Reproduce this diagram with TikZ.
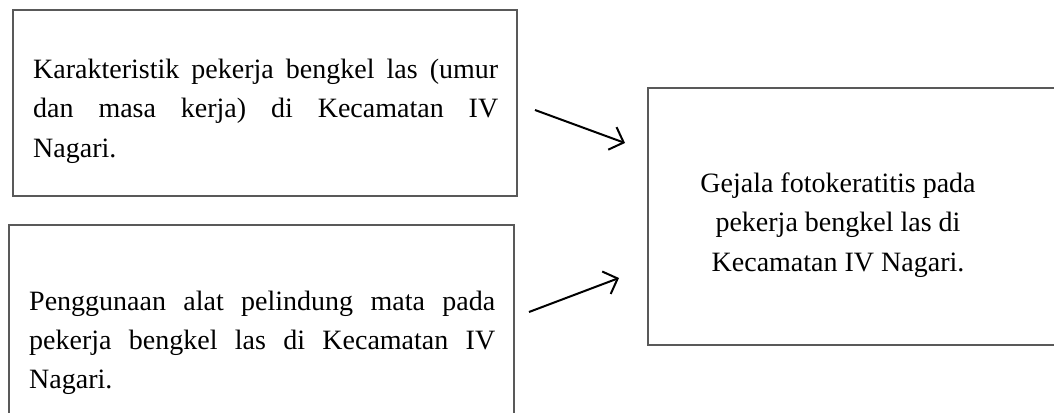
\documentclass[tikz,border=0pt]{standalone}
\usepackage{fontspec}
\setmainfont{Liberation Serif}
\usetikzlibrary{arrows.meta}
\begin{document}
\begin{tikzpicture}[x=1pt,y=-1pt,
  box/.style={draw=black!65,line width=1.4pt,fill=none},
  ln/.style={font=\fontsize{28}{40}\selectfont,inner sep=0pt,anchor=base west},
  cl/.style={font=\fontsize{28}{40}\selectfont,inner sep=0pt,anchor=base},
  arr/.style={line width=2pt,-{Straight Barb[length=12pt,width=24pt]}}]
\path[use as bounding box] (0,0) rectangle (1054,412);
\clip (0,0) rectangle (1054,412);
% boxes
\draw[box] (13,10) rectangle (517,196);
\draw[box] (9,225) rectangle (514,430);
\draw[box] (648,88) rectangle (1070,345);
% box 1 text
\node[ln] (t1a) at (33,78) {\makebox[465pt][s]{Karakteristik pekerja bengkel las (umur}};
\node[ln] (t1b) at (33,117.5) {\makebox[465pt][s]{dan masa kerja) di Kecamatan IV}};
\node[ln] (t1c) at (33,157) {Nagari.};
% box 2 text
\node[ln] (t2a) at (29,310) {\makebox[466pt][s]{Penggunaan alat pelindung mata pada}};
\node[ln] (t2b) at (29,349) {\makebox[466pt][s]{pekerja bengkel las di Kecamatan IV}};
\node[ln] (t2c) at (29,388) {Nagari.};
% box 3 text
\node[cl] (t3a) at (838,192) {Gejala fotokeratitis pada};
\node[cl] (t3b) at (838,231.5) {pekerja bengkel las di};
\node[cl] (t3c) at (838,271) {Kecamatan IV Nagari.};
% arrows
\coordinate (a1s) at (535,110);
\coordinate (a1e) at (625,143);
\coordinate (a2s) at (529,312);
\coordinate (a2e) at (619,278);
\draw[arr] (a1s) -- (a1e);
\draw[arr] (a2s) -- (a2e);
\end{tikzpicture}
\end{document}
